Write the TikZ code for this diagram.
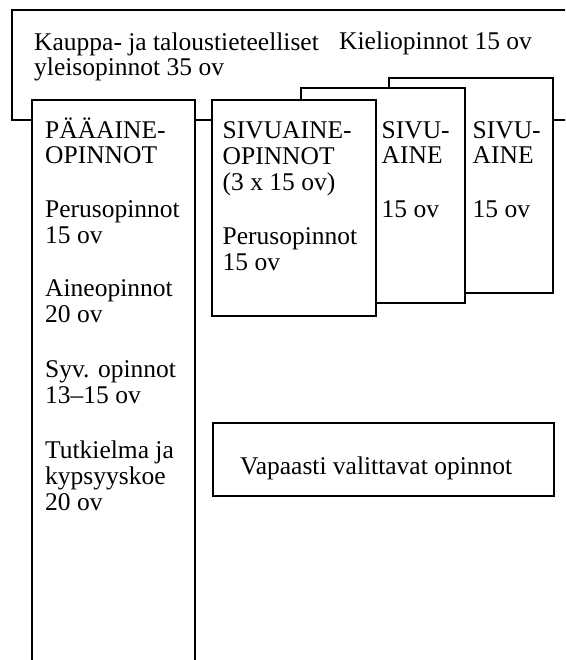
\documentclass[tikz,border=0pt]{standalone}
\usepackage{fontspec}
\setmainfont{Liberation Serif}
\begin{document}
\begin{tikzpicture}[x=1pt,y=-1pt,
  frame/.style={draw=black,line width=2pt},
  boxw/.style={frame,fill=white},
  txt/.style={anchor=base west,inner sep=0pt,align=left,
    font=\fontsize{25.5}{25.8}\selectfont,text=black}]
\useasboundingbox (0,0) rectangle (565,660);
\clip (0,0) rectangle (565,660);
% outer top frame (continues beyond right edge)
\coordinate (tl) at (12,10);
\coordinate (tr) at (580,10);
\coordinate (bl) at (12,120);
\coordinate (br) at (580,120);
\draw[frame] (br) -- (bl) -- (tl) -- (tr);
% boxes
\path[boxw] (32,100) rectangle (195,690);
\path[boxw] (389,78) rectangle (553,293);
\path[boxw] (301,88) rectangle (465,303);
\path[boxw] (211.5,100) rectangle (376,316);
\node[boxw,minimum width=341.5pt,minimum height=73.5pt,inner sep=0pt,anchor=north west] (vap) at (211.5,421.5) {};
% texts (anchor = baseline of the last line)
\node[txt] (k1) at (34,76) {Kauppa- ja taloustieteelliset\\yleisopinnot 35 ov};
\node[txt] (k2) at (339,50) {Kieliopinnot 15 ov};
\node[txt] (p1) at (45,164) {PÄÄAINE-\\OPINNOT};
\node[txt] (p2) at (45,243) {Perusopinnot\\15 ov};
\node[txt] (p3) at (45,322) {Aineopinnot\\20 ov};
\node[txt] (p4) at (45,403) {Syv. opinnot\\13–15 ov};
\node[txt] (p5) at (45,510) {Tutkielma ja\\kypsyyskoe\\20 ov};
\node[txt] (s1) at (222.5,190) {SIVUAINE-\\OPINNOT\\(3 x 15 ov)};
\node[txt] (s2) at (222.5,270) {Perusopinnot\\15 ov};
\node[txt] (a1) at (381.5,164) {SIVU-\\AINE};
\node[txt] (a2) at (381.5,218) {15 ov};
\node[txt] (b1) at (472.5,164) {SIVU-\\AINE};
\node[txt] (b2) at (472.5,218) {15 ov};
\node[txt] (vt) at (240,474) {Vapaasti valittavat opinnot};
\end{tikzpicture}
\end{document}
